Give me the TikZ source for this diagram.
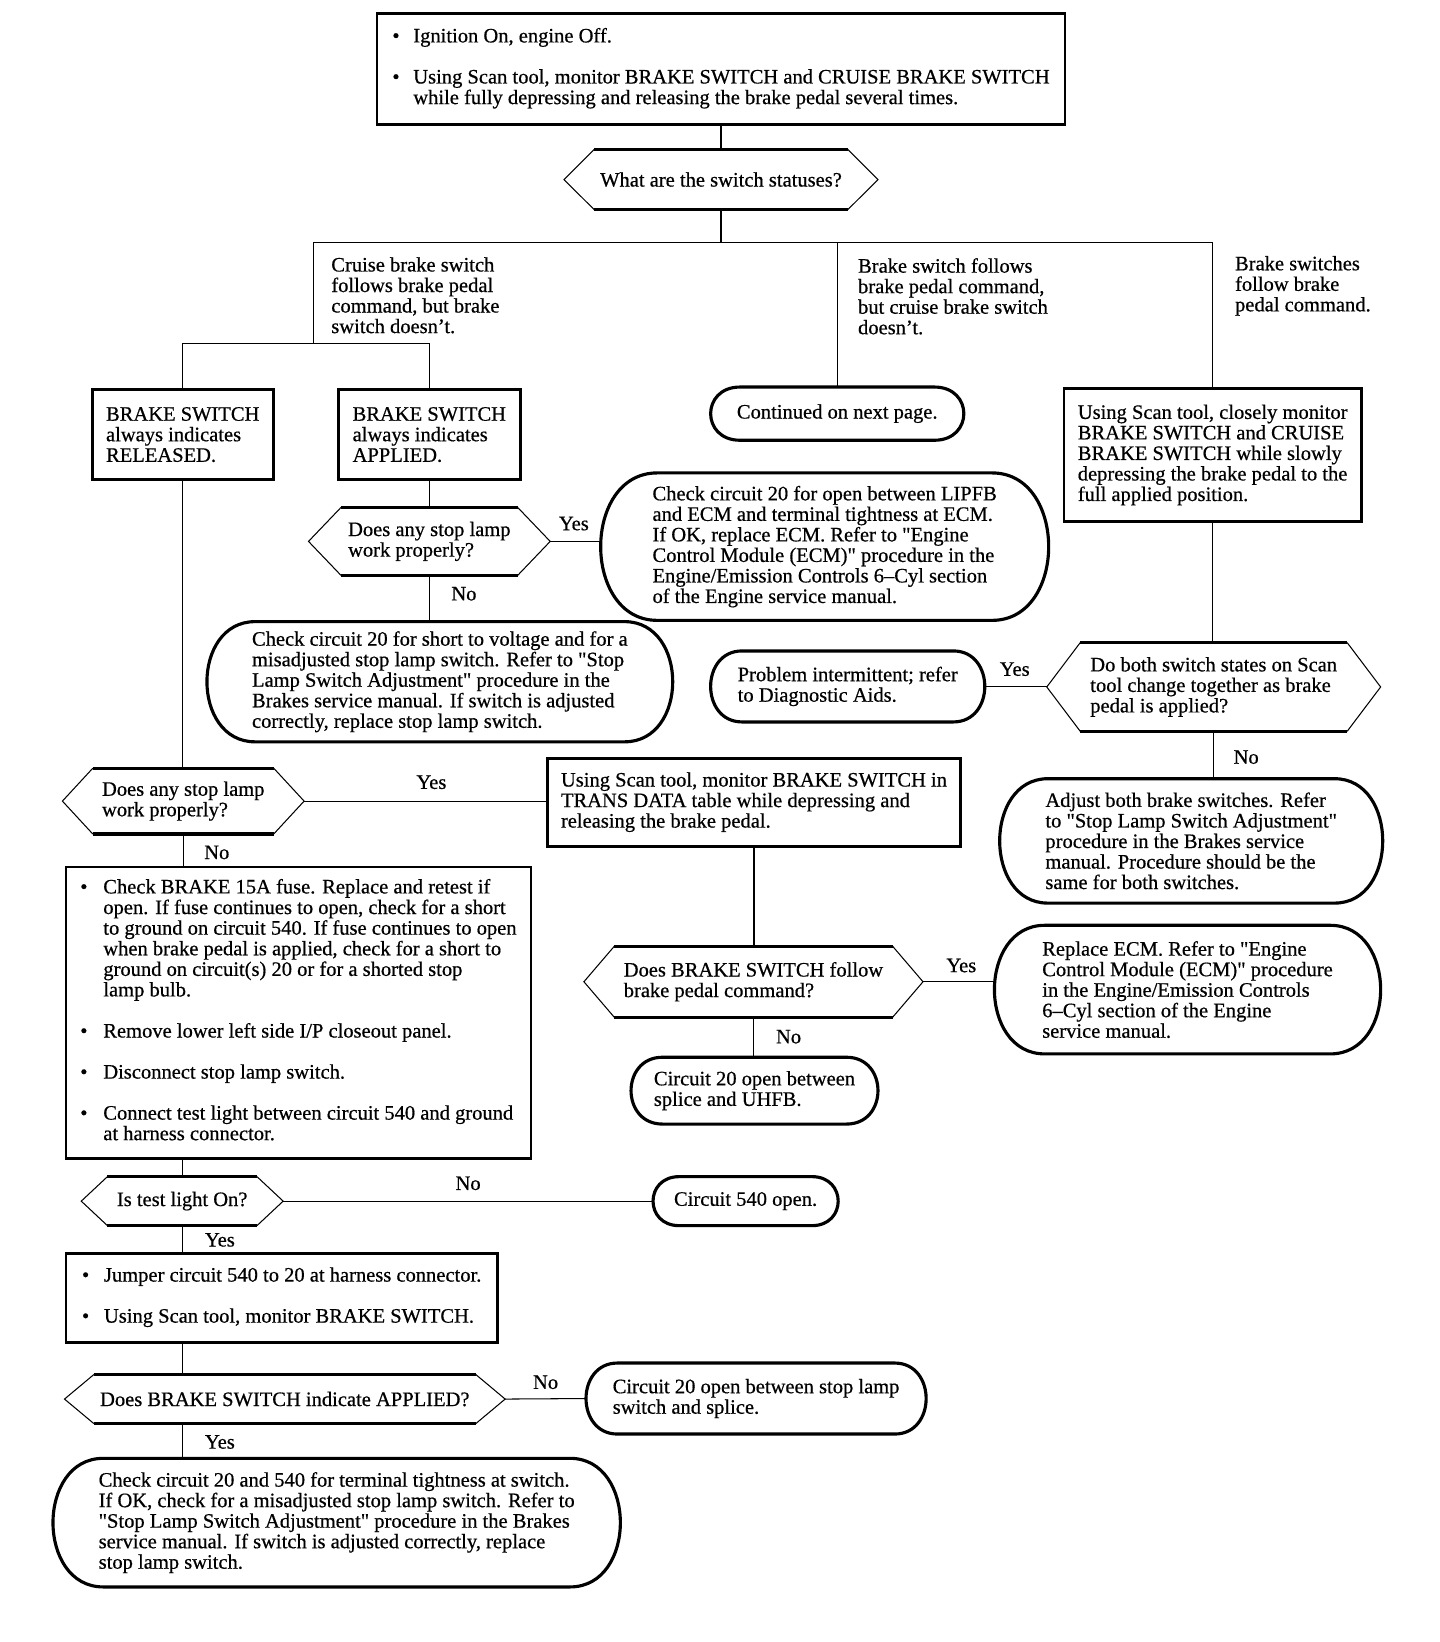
\documentclass[tikz,border=0pt]{standalone}
\usepackage{fontspec}
\setmainfont{Liberation Serif}[FakeBold=0.6]
\usetikzlibrary{calc}
\tikzset{box/.style={draw,line width=1.3pt,inner sep=0pt,align=left},
         term/.style={inner sep=0pt,align=left},
         hexa/.style={inner sep=0pt,align=left},
         lbl/.style={inner sep=0pt,align=left},
         sz/.style 2 args={minimum width=#1*0.5pt,minimum height=#2*0.5pt},
         conn/.style={line width=0.5pt},
         heavy/.style={line width=1.5pt}
}
\newcommand{\gap}{9.8pt}
\newcommand{\q}{\textquotedbl}

\begin{document}
\begin{tikzpicture}[x=0.5pt,y=-0.5pt,font=\fontsize{9.8}{9.8}\selectfont]
  \useasboundingbox (0,0) rectangle (1375,1568);
  % first check and branches
  \node[box,sz={657}{106}] (start) at (688.5,66) {\begin{tabular}{@{}p{10pt}@{}l@{}}
     \textbullet & Ignition On, engine Off.\\[\gap]
     \textbullet & Using Scan tool, monitor BRAKE SWITCH and CRUISE BRAKE SWITCH\\
     & while fully depressing and releasing the brake pedal several times.
   \end{tabular}};
  \node[hexa,sz={299}{57}] (q0) at (688.5,171.5) {What are the switch statuses?};
  \node[lbl,anchor=west] (lcruise) at (316,282) {Cruise brake switch\\follows brake pedal\\command, but brake\\switch doesn’t.};
  \node[lbl,anchor=west] (lbrake) at (819,283) {Brake switch follows\\brake pedal command,\\but cruise brake switch\\doesn’t.};
  \node[lbl,anchor=west] (lboth) at (1179,273) {Brake switches\\follow brake\\pedal command.};
  \node[box,sz={173}{86}] (released) at (174.5,415) {BRAKE SWITCH\\always indicates\\RELEASED.};
  \node[box,sz={174}{86}] (applied) at (410,415) {BRAKE SWITCH\\always indicates\\APPLIED.};
  \node[term,sz={241}{50}] (cont) at (799.5,395) {Continued on next page.};
  \node[box,sz={284}{127}] (monitor) at (1158,434.5) {Using Scan tool, closely monitor\\BRAKE SWITCH and CRUISE\\BRAKE SWITCH while slowly\\depressing the brake pedal to the\\full applied position.};
  % switch always applied
  \node[hexa,sz={230}{64}] (q1) at (410,517) {Does any stop lamp\\work properly?};
  \node[term,sz={427}{140}] (ecm1) at (787.5,522) {Check circuit 20 for open between LIPFB\\and ECM and terminal tightness at ECM.\\If OK, replace ECM. Refer to \q Engine\\Control Module (ECM)\q\ procedure in the\\Engine/Emission Controls 6--Cyl section\\of the Engine service manual.};
  \node[term,sz={444}{114}] (short) at (420,651) {Check circuit 20 for short to voltage and for a\\misadjusted stop lamp switch. Refer to \q Stop\\Lamp Switch Adjustment\q\ procedure in the\\Brakes service manual. If switch is adjusted\\correctly, replace stop lamp switch.};
  % both follow
  \node[hexa,sz={318}{84}] (q2) at (1159,656) {Do both switch states on Scan\\tool change together as brake\\pedal is applied?};
  \node[term,sz={261}{67}] (interm) at (809.5,655.5) {Problem intermittent; refer\\to Diagnostic Aids.};
  \node[term,sz={365}{118}] (adjust) at (1137.5,803) {Adjust both brake switches. Refer\\to \q Stop Lamp Switch Adjustment\q\\procedure in the Brakes service\\manual. Procedure should be the\\same for both switches.};
  % switch always released
  \node[hexa,sz={230}{62}] (q3) at (175,765) {Does any stop lamp\\work properly?};
  \node[box,sz={394}{84}] (trans) at (720,766) {Using Scan tool, monitor BRAKE SWITCH in\\TRANS DATA table while depressing and\\releasing the brake pedal.};
  \node[hexa,sz={323}{67}] (q4) at (719.5,937.5) {Does BRAKE SWITCH follow\\brake pedal command?};
  \node[term,sz={368}{122}] (ecm2) at (1134,945) {Replace ECM. Refer to \q Engine\\Control Module (ECM)\q\ procedure\\in the Engine/Emission Controls\\6--Cyl section of the Engine\\service manual.};
  \node[term,sz={235}{63}] (uhfb) at (720.5,1041.5) {Circuit 20 open between\\splice and UHFB.};
  \node[box,sz={444}{278}] (fuse) at (285,967) {\begin{tabular}{@{}p{11pt}@{}l@{}}
     \textbullet & Check BRAKE 15A fuse. Replace and retest if\\
     & open. If fuse continues to open, check for a short\\
     & to ground on circuit 540. If fuse continues to open\\
     & when brake pedal is applied, check for a short to\\
     & ground on circuit(s) 20 or for a shorted stop\\
     & lamp bulb.\\[\gap]
     \textbullet & Remove lower left side I/P closeout panel.\\[\gap]
     \textbullet & Disconnect stop lamp switch.\\[\gap]
     \textbullet & Connect test light between circuit 540 and ground\\
     & at harness connector.
   \end{tabular}};
  \node[hexa,sz={192}{46}] (q5) at (174,1147) {Is test light On?};
  \node[term,sz={176}{46}] (open540) at (712,1147) {Circuit 540 open.};
  \node[box,sz={412}{85}] (jumper) at (269,1239.5) {\begin{tabular}{@{}p{10.5pt}@{}l@{}}
     \textbullet & Jumper circuit 540 to 20 at harness connector.\\[\gap]
     \textbullet & Using Scan tool, monitor BRAKE SWITCH.
   \end{tabular}};
  \node[hexa,sz={420}{46}] (q6) at (272,1336) {Does BRAKE SWITCH indicate APPLIED?};
  \node[term,sz={324}{67}] (open20) at (722,1335.5) {Circuit 20 open between stop lamp\\switch and splice.};
  \node[term,sz={541}{122}] (final) at (321.5,1454) {Check circuit 20 and 540 for terminal tightness at switch.\\If OK, check for a misadjusted stop lamp switch. Refer to\\\q Stop Lamp Switch Adjustment\q\ procedure in the Brakes\\service manual. If switch is adjusted correctly, replace\\stop lamp switch.};
  % yes / no
  \node[lbl] (yes1) at (548,500) {Yes};
  \node[lbl] (no1) at (443,567) {No};
  \node[lbl] (yes2) at (969,639) {Yes};
  \node[lbl] (no2) at (1190,723) {No};
  \node[lbl] (yes3) at (412,747) {Yes};
  \node[lbl] (no3) at (207,814) {No};
  \node[lbl] (yes4) at (918,922) {Yes};
  \node[lbl] (no4) at (753,990) {No};
  \node[lbl] (no5) at (447,1130) {No};
  \node[lbl] (yes5) at (210,1184) {Yes};
  \node[lbl] (no6) at (521,1320) {No};
  \node[lbl] (yes6) at (210,1377) {Yes};
  % outlines
  \foreach\n/\rad in {cont/28,ecm1/54,short/46,interm/30,adjust/46,ecm2/48,uhfb/30,open540/25,open20/30,final/48} {
     \draw[heavy]($(\n.north west)+(\rad,0)$)--($(\n.north east)+(-\rad,0)$)
        .. controls ($(\n.north east)+(\rad/3,0)$) and ($(\n.south east)+(\rad/3,0)$) .. ($(\n.south east)+(-\rad,0)$)
        --($(\n.south west)+(\rad,0)$)
        .. controls ($(\n.south west)+(-\rad/3,0)$) and ($(\n.north west)+(-\rad/3,0)$) .. cycle;
   }
  \foreach\n/\s in {q0/29,q1/31,q2/32,q3/29,q4/29,q5/25,q6/28} {
     \draw[heavy]($(\n.north west)+(\s,0)$)--($(\n.north east)+(-\s,0)$);
     \draw[heavy]($(\n.south west)+(\s,0)$)--($(\n.south east)+(-\s,0)$);
     \draw[conn]($(\n.north west)+(\s,0)$)--(\n.west)--($(\n.south west)+(\s,0)$);
     \draw[conn]($(\n.north east)+(-\s,0)$)--(\n.east)--($(\n.south east)+(-\s,0)$);
   }
  % connectors
  \coordinate (barL) at (299,232);
  \coordinate (barR) at (1158,232);
  \coordinate (split) at (299,328);
  \draw[conn](start.south)--(q0.north);
  \draw[conn](q0.south)--(q0.south|-barL);
  \draw[conn](barL)--(barR);
  \draw[conn](barL)--(split);
  \draw[conn](released.north|-split)--(applied.north|-split);
  \draw[conn](released.north|-split)--(released.north);
  \draw[conn](applied.north|-split)--(applied.north);
  \draw[conn](cont.north|-barL)--(cont.north);
  \draw[conn](barR)--(monitor.north);
  \draw[conn](applied.south)--(q1.north);
  \draw[conn](q1.east)--(q1.east-|ecm1.west);
  \draw[conn](q1.south)--(q1.south|-short.north);
  \draw[conn](monitor.south)--(monitor.south|-q2.north);
  \draw[conn](q2.west)--(q2.west-|interm.east);
  \draw[conn](q2.south)--(q2.south|-adjust.north);
  \draw[conn](released.south)--(released.south|-q3.north);
  \draw[conn](q3.east)--(q3.east-|trans.west);
  \draw[conn](q3.south)--(q3.south|-fuse.north);
  \draw[conn](trans.south)--(trans.south|-q4.north);
  \draw[conn](q4.east)--(q4.east-|ecm2.west);
  \draw[conn](q4.south)--(q4.south|-uhfb.north);
  \draw[conn](q5.north|-fuse.south)--(q5.north);
  \draw[conn](q5.east)--(open540.west);
  \draw[conn](q5.south)--(q5.south|-jumper.north);
  \draw[conn](q5.south|-jumper.south)--(q5.south|-q6.north);
  \draw[conn](q6.east)--(open20.west);
  \draw[conn](q5.south|-q6.south)--(q5.south|-final.north);
\end{tikzpicture}
\end{document}
